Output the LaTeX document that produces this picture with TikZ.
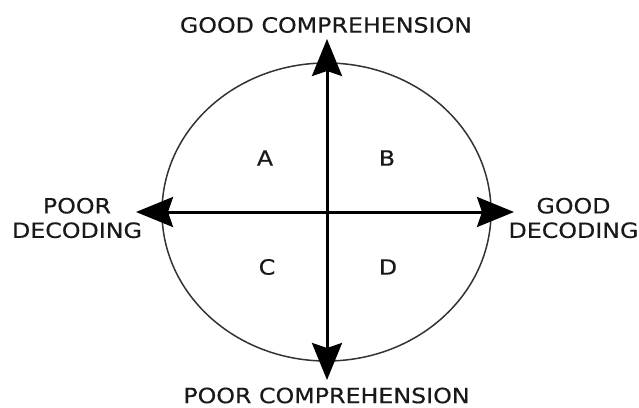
\documentclass[tikz,border=0pt]{standalone}
\usepackage{fontspec}
\setmainfont{DejaVu Sans}[FakeStretch=1.13,FakeBold=0.4]
\usetikzlibrary{arrows.meta}
\begin{document}
\begin{tikzpicture}[x=1pt,y=-1pt,
  lbl/.style={font=\fontsize{21}{24.5}\selectfont, align=center, inner sep=0pt, text=black!90},
  quad/.style={font=\fontsize{21}{24}\selectfont, inner sep=0pt, text=black!90},
  axis/.style={line width=3pt, -{Stealth[length=37pt,width=30pt,inset=5pt]}, shorten >=-2pt}]
\useasboundingbox (0,0) rectangle (639,407);
\fill[white] (0,0) rectangle (639,407);
\coordinate (c) at (326.5,212);
\draw[line width=1.5pt, black!80] (c) ellipse [x radius=164.5, y radius=149];
\coordinate (top) at (327,41);
\coordinate (bot) at (327,378);
\coordinate (lft) at (138,212);
\coordinate (rgt) at (512,212);
\draw[axis] (327,212) -- (top);
\draw[axis] (327,212) -- (bot);
\draw[axis] (327,212) -- (lft);
\draw[axis] (327,212) -- (rgt);
\node[lbl] (gc) at (326,25) {GOOD COMPREHENSION};
\node[lbl] (pc) at (326.5,395.5) {POOR COMPREHENSION};
\node[lbl] (pd) at (77,218) {POOR\\DECODING};
\node[lbl] (gd) at (573.5,218) {GOOD\\DECODING};
\node[quad] (a) at (265,158) {A};
\node[quad] (b) at (387,158) {B};
\node[quad] (cc) at (267,267) {C};
\node[quad] (d) at (388,267) {D};
\end{tikzpicture}
\end{document}
